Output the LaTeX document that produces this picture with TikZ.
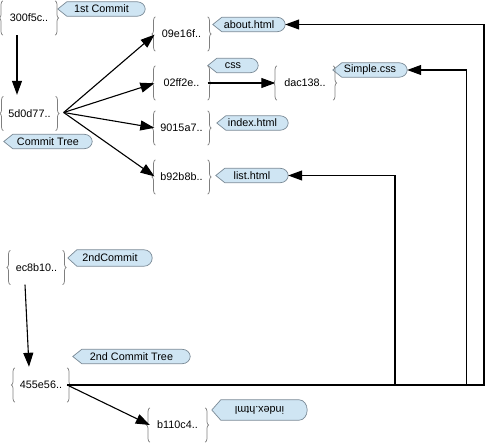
\documentclass[tikz,border=0pt]{standalone}
\usepackage{fontspec}
\setmainfont{Liberation Sans}
\usetikzlibrary{arrows.meta,decorations.pathreplacing,calc,backgrounds}
\definecolor{lblfill}{HTML}{CFE5F3}
\definecolor{lbldraw}{HTML}{7A8A96}
\definecolor{bracecol}{HTML}{7F7F7F}
\begin{document}
\begin{tikzpicture}[x=1pt,y=-1pt,
  every node/.style={font=\fontsize{10.8}{13}\selectfont},
  obj/.style={minimum width=52pt, minimum height=34pt, inner sep=0pt},
  lbl/.style={minimum height=14pt, inner sep=0pt},
  lblshape/.style={fill=lblfill, draw=lbldraw, line width=0.7pt},
  brc/.style={draw=bracecol, line width=0.75pt, decorate, decoration={brace, amplitude=3.5pt}},
  arr/.style={line width=1.1pt, -{Triangle[length=14pt,width=10pt]}},
  ln/.style={line width=1.1pt}]
\useasboundingbox (0,0) rectangle (485,444);
% objects
\node[obj] (c1) at (29,18) {300f5c..};
\node[obj] (t1) at (29.5,113.5) {5d0d77..};
\node[obj] (b1) at (181.5,34) {09e16f..};
\node[obj] (b2) at (181.5,83) {02ff2e..};
\node[obj] (b3) at (181.5,128) {9015a7..};
\node[obj] (b4) at (181.5,177) {b92b8b..};
\node[obj, minimum width=56pt] (b5) at (305,83) {dac138..};
\node[obj] (c2) at (36.5,267.5) {ec8b10..};
\node[obj] (t2) at (41,385) {455e56..};
\node[obj, minimum width=55pt] (b6) at (177.5,425) {b110c4..};
% labels
\node[lbl, minimum width=87pt] (l1) at (101.5,9) {1st Commit};
\node[lbl, minimum width=88pt] (l2) at (48,141.5) {Commit Tree};
\node[lbl, minimum width=72pt] (l3) at (249,24.5) {about.html};
\node[lbl, minimum width=50pt] (l4) at (233,65.5) {css};
\node[lbl, minimum width=74pt] (l5) at (370,70) {Simple.css};
\node[lbl, minimum width=71pt] (l6) at (252.5,123) {index.html};
\node[lbl, minimum width=72pt] (l7) at (252,175.5) {list.html};
\node[lbl, minimum width=84pt, minimum height=16pt] (l8) at (110,258) {2ndCommit};
\node[lbl, minimum width=117pt] (l9) at (131.5,356.5) {2nd Commit Tree};
\node[lbl, minimum width=95pt, minimum height=20pt] (l10) at (259.5,410) {\rotatebox[origin=c]{180}{index.html}};
% braces
\foreach \n in {c1,t1,b1,b2,b3,b4,b5,c2,t2,b6} {
  \draw[brc] (\n.south west) -- (\n.north west);
  \draw[brc] (\n.north east) -- (\n.south east);
}
% label shapes
\begin{pgfonlayer}{background}
\foreach \n in {l1,l2,l3,l4,l5,l6,l7,l8,l9,l10} {
  \draw[lblshape] (\n.west) -- ($(\n.north west)+(9,0)$) -- ($(\n.north east)+(-8,0)$)
    .. controls ($(\n.north east)+(-3.6,0)$) and ($(\n.north east)!0.45!(\n.east)$) .. (\n.east)
    .. controls ($(\n.south east)!0.45!(\n.east)$) and ($(\n.south east)+(-3.6,0)$) .. ($(\n.south east)+(-8,0)$)
    -- ($(\n.south west)+(9,0)$) -- cycle;
}
\end{pgfonlayer}
% connectors
\coordinate (xa) at (484,0);
\coordinate (xs) at (466.5,0);
\coordinate (xl) at (395,0);
\coordinate (t1o) at ($(t1.east)+(8,-1)$);
\draw[arr] ($(c1.south)+(-12,0)$) -- ($(t1.north)+(-12.5,-1.5)$);
\draw[arr, shorten >=1pt] (t1o) -- (b1.west);
\draw[arr, shorten >=1pt] (t1o) -- (b2.west);
\draw[arr, shorten >=1pt] (t1o) -- (b3.west);
\draw[arr, shorten >=1pt] (t1o) -- (b4.west);
\draw[arr, shorten >=1.5pt] (b2.east) -- (b5.west);
\draw[arr] ($(c2.south)+(-11.5,0)$) -- ($(t2.north)+(-12,-1)$);
\draw[arr] (t2.east) -- (b6.west);
\draw[arr] (t2.east) -- (t2.east -| xa) -- (xa |- l3.east) -- (l3.east);
\draw[arr] (t2.east) -- (t2.east -| xs) -- (xs |- l5.east) -- (l5.east);
\draw[arr] (t2.east) -- (t2.east -| xl) -- (xl |- l7.east) -- (l7.east);
\end{tikzpicture}
\end{document}
